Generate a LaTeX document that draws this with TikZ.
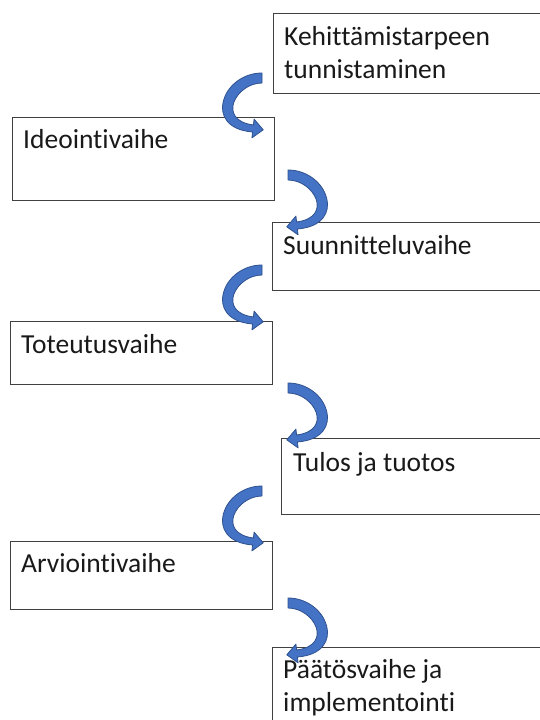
\documentclass[tikz,border=0pt]{standalone}
\usepackage{fontspec}
\setmainfont{Carlito}[Ligatures=NoCommon]
\definecolor{arrowblue}{HTML}{4472C4}
\definecolor{arrowedge}{HTML}{2F528F}
\tikzset{
	stage/.style={draw=black!75, line width=1.1pt, anchor=north west, inner sep=0pt},
	stagetext/.style={anchor=base west, inner sep=0pt, align=left,
		font=\fontsize{27.5}{33}\selectfont, text=black!90},
	pics/bend/.style={code={
		\filldraw[fill=arrowblue, draw=arrowedge, line width=0.8pt, line join=round]
		(0,5) .. controls (-40,5) and (-60,-50) .. (-9.4,-54)
		-- (-10.1,-59.9) -- (1.2,-51.8) -- (-7.9,-41.1) -- (-8.6,-47)
		.. controls (-46,-42) and (-26,-5) .. (0,-5) -- cycle;
	}}
}
\begin{document}
\begin{tikzpicture}[x=1pt, y=1pt]
		
		\useasboundingbox (0,0) rectangle (540,-720);
		
		% Stage boxes
		\node [stage, minimum width=268pt, minimum height=80pt] (kehitys) at (273,-13){};
		\node [stage, minimum width=262pt, minimum height=83pt] (ideointi) at (12,-117){};
		\node [stage, minimum width=269pt, minimum height=68pt] (suunnittelu) at (272,-222){};
		\node [stage, minimum width=262pt, minimum height=63pt] (toteutus) at (10,-321){};
		\node [stage, minimum width=260pt, minimum height=76pt] (tulos) at (281,-438){};
		\node [stage, minimum width=262pt, minimum height=68pt] (arviointi) at (10,-541){};
		\node [stage, minimum width=269pt, minimum height=80pt] (paatos) at (272,-647){};
		
		% Stage labels
		\node [stagetext] (kehitysText) at ([xshift=11pt, yshift=-32pt]kehitys.north west) {Kehittämistarpeen};
		\node [stagetext] (kehitysText2) at ([yshift=-33pt]kehitysText.base west) {tunnistaminen};
		\node [stagetext] (ideointiText) at ([xshift=11pt, yshift=-31pt]ideointi.north west) {Ideointivaihe};
		\node [stagetext] (suunnitteluText) at ([xshift=11pt, yshift=-32pt]suunnittelu.north west) {Suunnitteluvaihe};
		\node [stagetext] (toteutusText) at ([xshift=11pt, yshift=-32pt]toteutus.north west) {Toteutusvaihe};
		\node [stagetext] (tulosText) at ([xshift=12pt, yshift=-33pt]tulos.north west) {Tulos ja tuotos};
		\node [stagetext] (arviointiText) at ([xshift=11pt, yshift=-31pt]arviointi.north west) {Arviointivaihe};
		\node [stagetext] (paatosText) at ([xshift=11pt, yshift=-31pt]paatos.north west) {Päätösvaihe ja};
		\node [stagetext] (paatosText2) at ([yshift=-33pt]paatosText.base west) {implementointi};
		
		% Curved arrows between stages
		\coordinate (bend1) at (262,-78);
		\coordinate (bend2) at (288,-175);
		\coordinate (bend3) at (262,-270);
		\coordinate (bend4) at (288,-388);
		\coordinate (bend5) at (262,-491);
		\coordinate (bend6) at (288,-603);
		
		\pic at (bend1) {bend};
		\pic [xscale=-1] at (bend2) {bend};
		\pic at (bend3) {bend};
		\pic [xscale=-1] at (bend4) {bend};
		\pic at (bend5) {bend};
		\pic [xscale=-1] at (bend6) {bend};
		
	\end{tikzpicture}
\end{document}
